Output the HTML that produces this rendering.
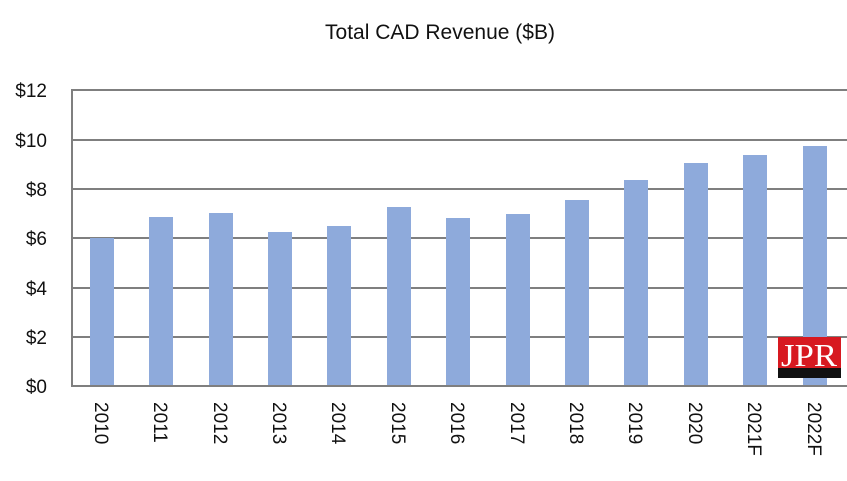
<!DOCTYPE html>
<html><head><meta charset="utf-8"><style>
html,body{margin:0;padding:0;background:#fff;}
svg{display:block;font-family:"Liberation Sans",sans-serif;}
</style></head><body>
<svg width="847" height="481" viewBox="0 0 847 481" xmlns="http://www.w3.org/2000/svg">
<text x="440" y="39" font-size="21" text-anchor="middle" fill="#111">Total CAD Revenue ($B)</text>
<g stroke="#7f7f7f" stroke-width="2">
<line x1="72" y1="90" x2="847" y2="90"/>
<line x1="72" y1="140" x2="847" y2="140"/>
<line x1="72" y1="189" x2="847" y2="189"/>
<line x1="72" y1="238" x2="847" y2="238"/>
<line x1="72" y1="288" x2="847" y2="288"/>
<line x1="72" y1="337" x2="847" y2="337"/>
<line x1="72" y1="89" x2="72" y2="387"/>
</g>
<g font-size="19" text-anchor="end" fill="#111">
<text x="47" y="97">$12</text>
<text x="47" y="147">$10</text>
<text x="47" y="196">$8</text>
<text x="47" y="245">$6</text>
<text x="47" y="295">$4</text>
<text x="47" y="344">$2</text>
<text x="47" y="393">$0</text>
</g>
<g fill="#8eaadb">
<rect x="90" y="238" width="24" height="148"/>
<rect x="149" y="217" width="24" height="169"/>
<rect x="209" y="213" width="24" height="173"/>
<rect x="268" y="232" width="24" height="154"/>
<rect x="327" y="226" width="24" height="160"/>
<rect x="387" y="207" width="24" height="179"/>
<rect x="446" y="218" width="24" height="168"/>
<rect x="506" y="214" width="24" height="172"/>
<rect x="565" y="200" width="24" height="186"/>
<rect x="624" y="180" width="24" height="206"/>
<rect x="684" y="163" width="24" height="223"/>
<rect x="743" y="155" width="24" height="231"/>
<rect x="803" y="146" width="24" height="240"/>
</g>
<line x1="72" y1="386" x2="847" y2="386" stroke="#7f7f7f" stroke-width="2"/>
<rect x="778" y="337" width="63" height="32" fill="#d71920"/>
<rect x="778" y="368" width="63" height="10" fill="#111"/>
<text x="809" y="366" font-family="Liberation Serif,serif" font-size="32" fill="#fff" text-anchor="middle" textLength="56" lengthAdjust="spacingAndGlyphs">JPR</text>
<g font-size="19" fill="#111">
<text transform="translate(95,402) rotate(90)">2010</text>
<text transform="translate(154,402) rotate(90)">2011</text>
<text transform="translate(214,402) rotate(90)">2012</text>
<text transform="translate(273,402) rotate(90)">2013</text>
<text transform="translate(332,402) rotate(90)">2014</text>
<text transform="translate(392,402) rotate(90)">2015</text>
<text transform="translate(451,402) rotate(90)">2016</text>
<text transform="translate(511,402) rotate(90)">2017</text>
<text transform="translate(570,402) rotate(90)">2018</text>
<text transform="translate(629,402) rotate(90)">2019</text>
<text transform="translate(689,402) rotate(90)">2020</text>
<text transform="translate(748,402) rotate(90)">2021F</text>
<text transform="translate(808,402) rotate(90)">2022F</text>
</g>
</svg>
</body></html>
